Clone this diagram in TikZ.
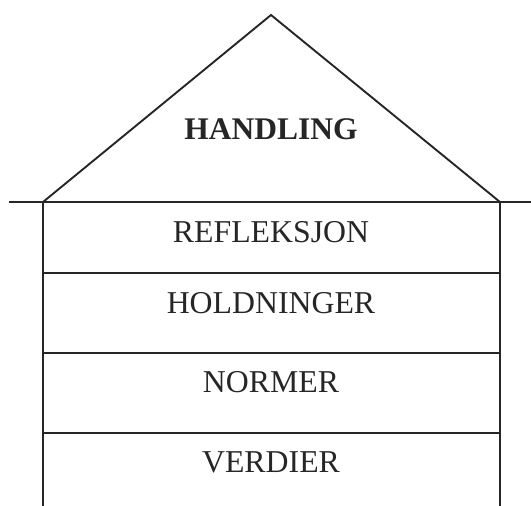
\documentclass[tikz,border=0pt]{standalone}
\usepackage{fontspec}
\setmainfont{Liberation Serif}
\begin{document}
\begin{tikzpicture}[x=1pt,y=-1pt,
  wall/.style={line width=1.9pt,black!85},
  lbl/.style={anchor=base,inner sep=0pt,font=\fontsize{31.8}{34}\selectfont,text=black!85},
  roof/.style={lbl,font=\fontsize{31.5}{34}\selectfont\bfseries}]
\useasboundingbox (0,0) rectangle (531,506);
\coordinate (apex) at (271,15);
\coordinate (bl) at (43,202);
\coordinate (br) at (500,202);
\coordinate (gl) at (9,202);
\coordinate (gr) at (531,202);
\coordinate (wl) at (43,506);
\coordinate (wr) at (500,506);
\coordinate (l1l) at (43,273);
\coordinate (l1r) at (500,273);
\coordinate (l2l) at (43,353);
\coordinate (l2r) at (500,353);
\coordinate (l3l) at (43,433);
\coordinate (l3r) at (500,433);
\draw[wall,line join=miter] (bl) -- (apex) -- (br);
\draw[wall] (gl) -- (gr);
\draw[wall] (bl) -- (wl);
\draw[wall] (br) -- (wr);
\draw[wall] (l1l) -- (l1r);
\draw[wall] (l2l) -- (l2r);
\draw[wall] (l3l) -- (l3r);
\node[roof] (handling) at (271,139) {HANDLING};
\node[lbl] (refl) at (271,242) {REFLEKSJON};
\node[lbl] (hold) at (271,313) {HOLDNINGER};
\node[lbl] (norm) at (271,392) {NORMER};
\node[lbl] (verd) at (271,472) {VERDIER};
\end{tikzpicture}
\end{document}
